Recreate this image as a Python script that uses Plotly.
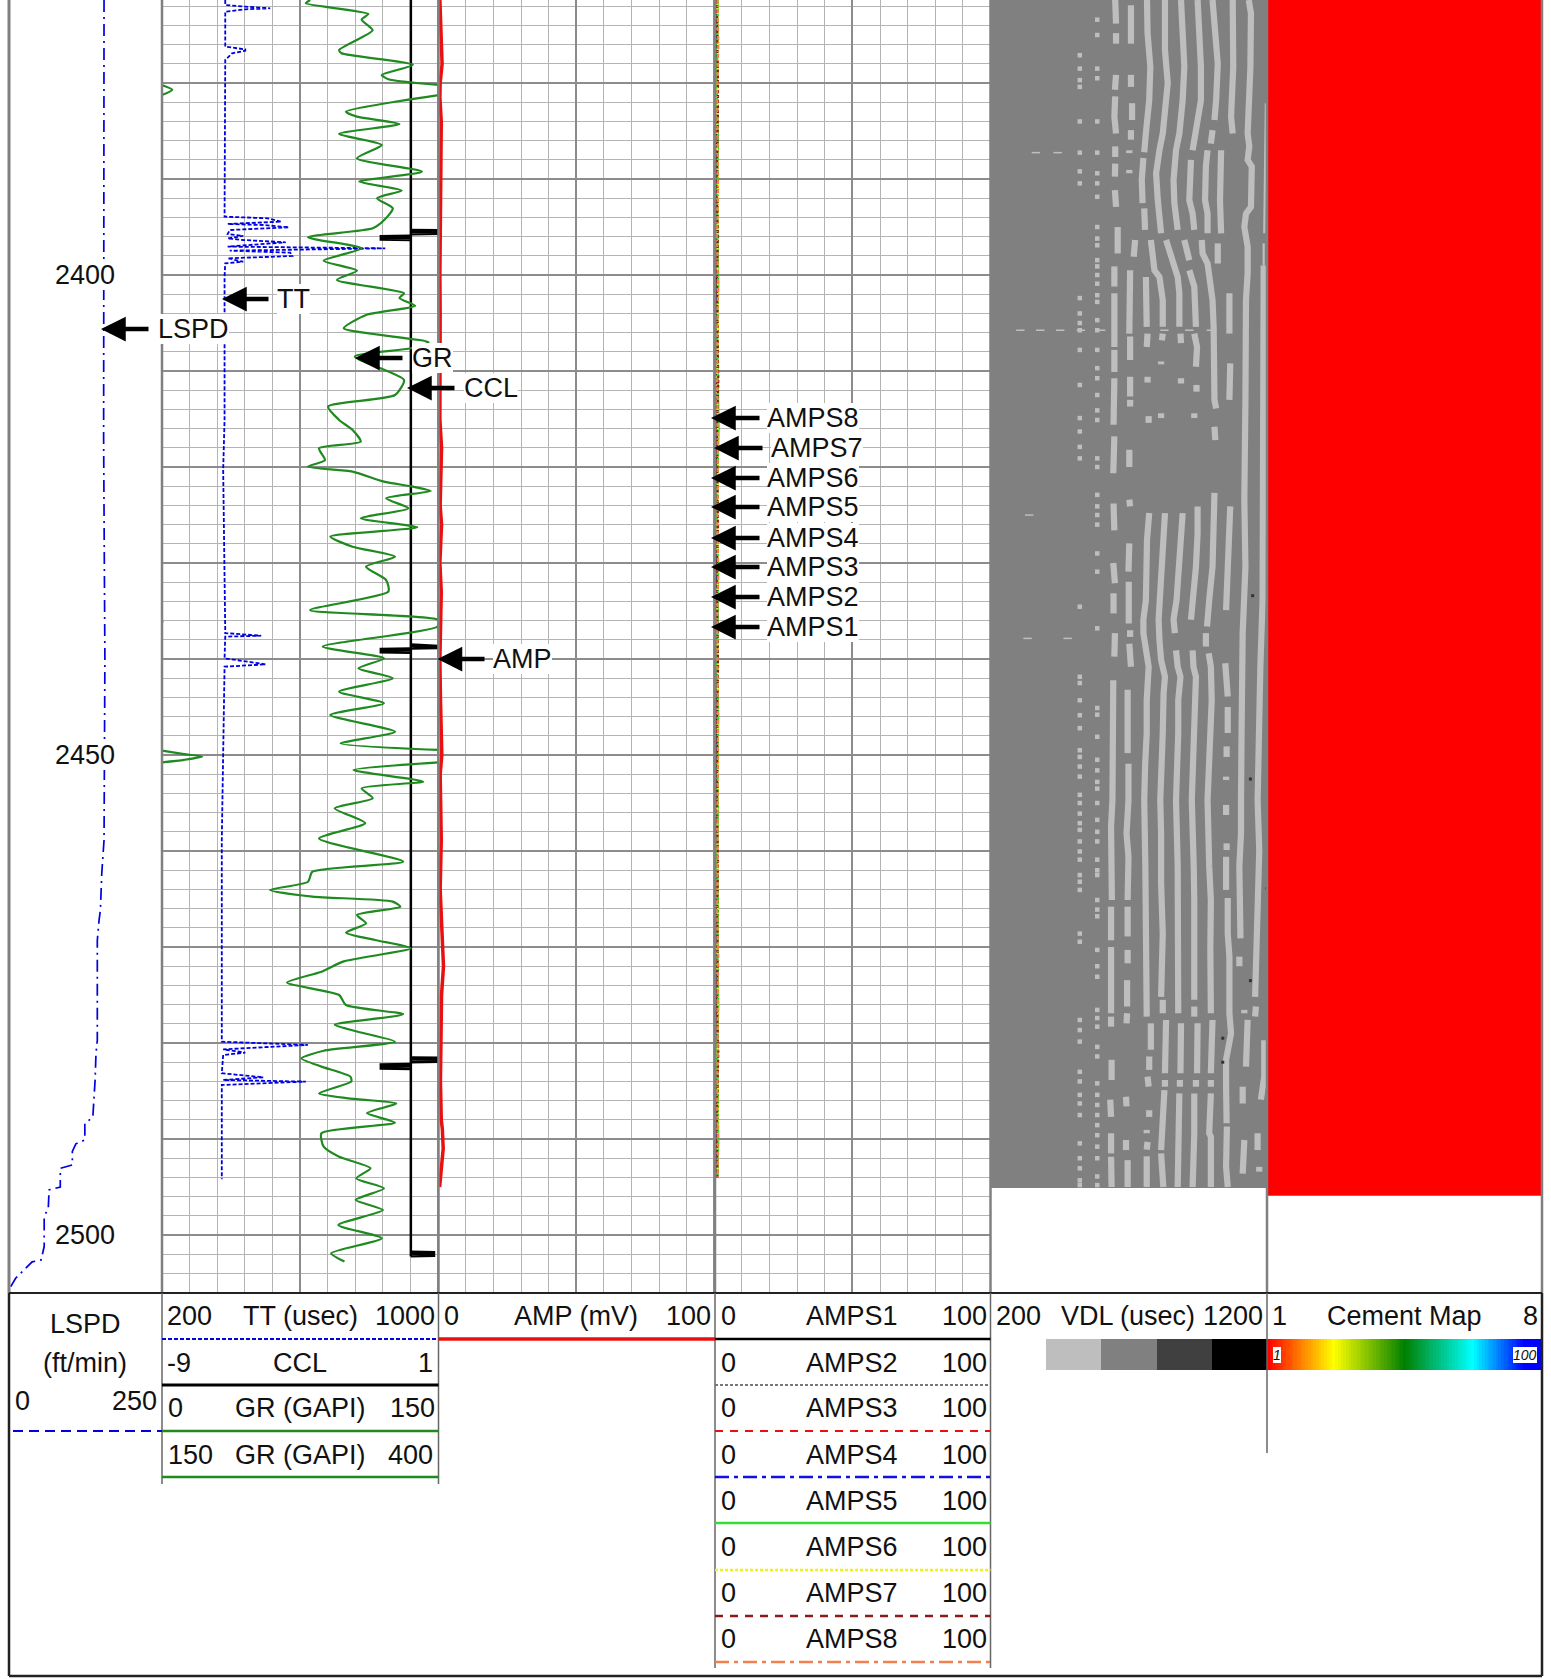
import plotly.graph_objects as go

# ---------------- data ----------------
DEPTH_TOP, DEPTH_BOTTOM = 2371.35, 2506.04
DEPTH_TICKS = [2400, 2450, 2500]

LSPD = [(2371.35,155.3),(2415.1,155.3),(2417,154.6),(2440,156.7),(2458.85,155.3),(2462.3,151.6),(2466.1,149.4),(2467.2,147.2),(2469.3,144.3),(2479.7,144.3),(2481.1,142.1),(2483.85,140.7),(2487.7,137),(2488.4,123.9),(2490.1,123.9),(2490.5,109.3),(2491.3,103.5),(2492.7,103.5),(2493.05,83.8),(2495,83.8),(2495.3,65.5),(2497.2,64.2),(2498.1,57.5),(2501.2,57.5),(2502.6,52.4),(2502.8,37.8),(2503.6,25.4),(2504.5,10.8),(2505.55,1.3)]

TT = [(2371.35,383),(2371.87,383),(2372.04,441),(2372.22,513),(2372.32,441),(2372.57,383),(2376.21,383),(2376.49,441),(2376.63,441),(2376.9,403),(2377.6,383),(2393.92,381),(2394.09,506),(2394.44,545),(2394.68,390),(2394.79,493),(2395.03,567),(2395.31,396),(2395.73,390),(2395.93,435),(2396.18,390),(2396.35,435),(2396.59,558),(2397.04,390),(2397.22,846),(2397.46,396),(2397.67,571),(2398.02,577),(2398.26,390),(2398.61,435),(2398.78,383),(2400.17,381),(2415.1,381),(2420.3,377),(2437.15,383),(2437.3,383),(2437.57,487),(2437.67,383),(2439.93,381),(2440.55,500),(2440.8,381),(2458.85,373),(2479.86,373),(2480.2,622),(2480.66,377),(2481,441),(2481.25,377),(2483.15,373),(2483.57,493),(2483.85,377),(2484.02,616),(2484.37,373),(2494.2,373)]

CCL_BASE = [(2371.35,0),(2502.25,0)]
CCL_KICKS = [(2395.4,0),(2395.45,1.0),(2395.6,1.0),(2395.65,0),None,(2396.0,0),(2396.05,-1.05),(2396.2,-1.05),(2396.25,0),None,
             (2438.6,0),(2438.65,1.0),(2438.75,1.0),(2438.8,0),None,(2439.0,0),(2439.05,-1.05),(2439.2,-1.05),(2439.25,0),None,
             (2481.6,0),(2481.65,1.0),(2481.85,1.0),(2481.9,0),None,(2482.3,0),(2482.35,-1.05),(2482.55,-1.05),(2482.6,0),None,
             (2501.85,0),(2501.9,0.8),(2502.05,0.8),(2502.1,0)]

GR = [(2371.35,80.4),(2371.7,78),(2372.8,111.9),(2373.4,108.3),(2374.5,114.3),(2376.56,96.1),(2376.9,97.4),(2378.1,136.1),(2379.16,119.2),(2379.6,122.8),(2380.2,150),None,
      (2381.25,150),(2382.98,99.8),(2383.5,105.8),(2384.27,128.8),(2385.3,96.1),(2386.45,119.2),(2387.84,105.8),(2389.23,141),(2390.27,107),(2391.2,130),(2392,116.7),(2393.05,125.2),(2394.3,120.4),(2395.13,114.3),(2396.07,79.2),(2397.22,108.3),(2398.5,87.7),(2399.54,105.8),(2400.5,94.9),(2401.9,131.3),(2402.4,128.8),(2403.2,137.3),(2404.16,110.7),(2405.55,98.6),(2407,144.6),(2407.63,134.9),(2408.5,104.6),(2410.93,131.3),(2412.5,126.4),(2413.7,90.1),(2415.1,96.1),
      (2416.14,103.4),(2417.36,107.8),(2418.05,85.2),(2419.27,88.4),(2419.96,79.2),(2420.48,103.4),(2421.52,120.4),(2422.04,136.1),(2422.5,145.8),(2423.26,121.6),(2424.3,133.7),(2425.34,107.8),(2426.28,138.5),(2427.25,91.3),(2428.3,103.4),(2429.34,126.4),(2430.38,110.7),(2431.77,121.6),(2432.98,122.8),(2434.9,80.4),(2435.93,150),(2436.63,149.4),(2438.7,87.2),(2439.93,120.4),(2440.97,106.6),(2442,125.2),(2443.4,96.1),(2444.6,120.4),(2445.83,91.3),(2447.57,126.4),(2448.8,96.9),(2449.47,150),None,
      (2450.76,150),(2451.56,103.9),(2452.77,141.7),(2453.47,108.3),(2454.5,114.3),(2455.55,93.7),(2457.1,110.2),(2458.7,85.2),(2461.1,130.8),(2462.15,81.6),(2463.2,79.2),(2464.06,58.6),(2464.75,81.6),(2465.27,125.2),(2465.8,129.3),(2466.66,105.8),(2467.53,110.7),(2468.5,99.8),(2469.27,115.5),(2470.13,134.9),(2471.5,98.6),(2472.57,86.5),(2473.7,67.8),(2475,96.1),(2476.04,99.8),(2477,130.8),(2478.1,93.7),(2478.8,105.8),(2479.86,126.4),(2480.8,87.7),(2481.6,75.6),(2482.46,86.5),(2483.5,102.2),(2484,102.7),(2485.24,85.2),(2485.76,101),(2486.3,127.1),(2487.3,111.2),(2488.3,126.4),(2489.4,86.5),(2490.8,87.7),(2491.85,96.1),(2493.05,113.1),(2494.1,105.4),(2495.14,120.4),(2496.35,105.1),(2497.4,119.9),(2498.95,95.7),(2500.34,119.2),(2501.9,91.8),(2502.77,99)]

GR_BACKUP = [(2380.2,150),(2380.7,159.3),(2381.25,150),None,(2449.55,150),(2449.9,170),(2450.17,186.3),(2450.5,170),(2450.76,150),None,(2435.95,150),(2436.2,150.5)]

AMP = [(2371.35,0.5),(2376,0.9),(2378,1.3),(2380,0.6),(2381.5,0.5),(2384,1.0),(2388,0.9),(2392,0.5),(2400,0.5),(2404,0.6),(2410,0.5),(2415,0.5),(2418,1.1),(2420,0.9),(2424,0.6),(2426,1.1),(2430,0.5),(2433,1.0),(2436,0.9),(2440,0.5),(2444,0.7),(2448,0.9),(2450,1.2),(2452,0.6),(2455,0.7),(2458.85,1.0),(2464,0.6),(2468,1.1),(2472,1.8),(2475,1.1),(2480,0.9),(2484,0.7),(2488,1.0),(2489,1.4),(2491,1.7),(2493,1.1),(2494,0.8),(2495,0.4)]

AMPS_DEPTH = [2371.35,2376,2381,2386,2391,2396,2401,2406,2411,2416,2421,2426,2431,2436,2441,2446,2451,2456,2461,2466,2471,2476,2481,2486,2490,2494]
AMPS1 = [0.5,0.4,0.6,0.5,0.4,0.7,0.5,0.4,0.5,0.6,0.4,0.5,0.7,0.5,0.4,0.6,0.5,0.4,0.5,0.7,0.5,0.4,0.6,0.5,0.4,0.5]
AMPS2 = [0.6,0.7,0.5,0.8,0.6,0.5,0.7,0.6,0.8,0.5,0.7,0.6,0.5,0.8,0.6,0.7,0.5,0.8,0.6,0.5,0.7,0.6,0.8,0.5,0.7,0.6]
AMPS3 = [0.9,0.8,1.0,0.7,0.9,1.1,0.8,1.0,0.7,0.9,0.8,1.1,0.9,0.7,1.0,0.8,0.9,1.1,0.7,0.9,1.0,0.8,0.7,1.1,0.9,0.8]
AMPS4 = [0.7,0.6,0.8,0.6,0.7,0.5,0.8,0.7,0.6,0.8,0.5,0.7,0.6,0.8,0.7,0.5,0.6,0.8,0.7,0.6,0.5,0.8,0.7,0.6,0.8,0.9]
AMPS5 = [1.0,0.9,0.7,1.1,0.8,0.9,1.2,0.8,1.0,1.3,0.9,0.7,1.1,1.0,0.8,1.2,0.9,1.0,0.8,1.1,0.9,1.2,0.8,1.0,1.2,0.9]
AMPS6 = [0.8,1.1,0.9,0.7,1.2,0.8,1.0,1.1,0.7,0.9,1.2,0.8,1.0,0.7,1.1,0.9,1.2,0.8,0.9,1.0,0.7,1.1,0.9,1.2,0.8,1.0]
AMPS7 = [0.6,0.8,1.1,0.9,0.5,1.0,0.7,0.9,1.2,0.7,0.8,1.0,0.6,0.9,1.1,0.7,0.8,0.6,1.1,0.8,0.9,0.7,1.2,0.8,0.6,0.9]
AMPS8 = [0.9,1.2,0.8,1.0,1.1,0.7,1.1,0.8,0.9,1.1,1.0,0.9,1.2,0.8,0.9,1.0,1.1,0.9,1.0,0.7,1.2,0.9,1.0,0.7,1.1,1.0]
AMPS_ALL = [AMPS1,AMPS2,AMPS3,AMPS4,AMPS5,AMPS6,AMPS7,AMPS8]

VDL_BOTTOM, CEMENT_BOTTOM = 2495.1, 2495.9

VDL_S1 = [(2371.35,651),(2373.8,654),None,(2374.8,654),(2375.9,654),None,(2379.15,654),(2380.7,650),None,(2381.4,651),(2383.5,648),(2385.25,654),None,(2386.6,651),(2387.7,651),None,(2388.4,651),(2389.75,650),None,(2391.15,650),(2392.9,654),None,(2395,660),(2397.75,660),None,(2399.1,648),(2401.2,648),None,(2401.9,648),(2405.75,651),(2407.5,648),None,(2407.8,648),(2410.1,648),None,(2410.75,648),(2413,648),(2415.6,645),None,(2416.8,648),(2420.65,644),None,(2423.8,645),(2426.6,648),None,(2430,644),(2432.1,650),None,(2433.15,645),(2435.25,645),None,(2437.3,650),(2439.75,648),None,(2442.2,644),(2444.3,644),(2445,639),(2449.8,639),(2454.7,641),(2457.45,636),(2464.05,636),(2465.1,639),None,(2465.8,636),(2469.3,636),None,(2470,636),(2476.9,636),None,(2477.25,636),(2478.3,636),None,(2481.75,638),(2483.85,638),None,(2485.9,633),(2487.7,636),None,(2489.4,636),(2491.5,636),None,(2491.85,636),(2495,638)]
VDL_S2 = [(2371.9,708),(2373.8,710),(2374.8,706),(2375.9,708),None,(2379.15,708),(2380.4,708),None,(2382.1,712),(2383.85,712),None,(2384.9,708),(2385.9,708),None,(2387,702),(2387.3,702),None,(2389.05,702),(2389.4,702),None,(2399.5,705),(2406.1,702),None,(2406.4,705),(2408.85,705),None,(2410.6,705),(2412.65,705),None,(2413,705),(2413.7,705),None,(2418.2,702),(2420,702),None,(2423.4,702),(2424.1,705),None,(2427.95,702),(2430.9,699),None,(2431.95,700),(2436.3,700),None,(2437,705),(2437.7,705),None,(2438.4,702),(2440.8,708),None,(2443.2,696),(2447.7,699),(2449.8,696),None,(2450.9,699),(2454.7,699),(2458.15,692),(2460.6,699),(2465.1,696),None,(2465.8,696),(2468.9,696),None,(2470.3,696),(2471.7,696),None,(2473.45,694),(2476.2,694),None,(2476.9,694),(2477.95,692),None,(2485.6,690),(2486.6,692),None,(2490.1,690),(2491.15,690),None,(2492.2,696),(2495,696)]
VDL_S3 = [(2371.35,766),(2374.8,768),(2378.3,778),(2381.8,774),(2385.2,762),(2387.2,756),None,(2387.8,753),(2390.1,747),(2392.5,750),None,(2393.05,756),(2395.3,759),None,(2396.35,723),(2398.1,718),None,(2400.2,762),(2405.4,765),None,(2406.1,768),(2407.5,765),None,(2410.6,768),(2411.2,768),None,(2414.7,772),(2415.4,772),None,(2424.8,774),(2427.6,766),(2433.85,762),(2435.9,753),(2437.3,753),(2439.1,760),(2440.8,772),(2444.3,765),(2447.7,765),(2451.2,759),(2454.7,756),(2461.6,760),(2468.6,762),(2477.25,765),None,(2477.95,780),(2480.7,780),None,(2481.4,774),(2482.8,774),None,(2483.5,768),(2484.55,772),None,(2487,774),(2487.7,774),None,(2489.05,765),(2489.4,765),None,(2490.3,768),(2491.1,765),None,(2491.8,765),(2493.6,765),(2495,765)]
VDL_S4 = [(2371.35,831),(2376.55,831),(2380,841),(2383.5,831),(2385.25,823),(2387,811),(2389.4,799),(2392.2,805),(2393.75,811),(2395.65,817),None,(2396.35,780),(2399.5,793),(2400.2,811),(2402.6,823),(2405.4,823),None,(2406.1,823),(2406.8,820),None,(2409,817),(2409.3,817),None,(2414.4,817),(2414.9,817),None,(2424.8,831),(2427.6,826),(2430.4,823),(2433.85,817),(2435.9,808),(2438,811),(2440.1,817),(2441.85,831),(2443.6,826),(2447.7,823),(2451.2,817),(2454.7,814),(2458.15,817),(2463.4,817),(2468.6,823),(2475.2,817),None,(2475.5,823),(2476.9,823),None,(2477.6,835),(2483.15,831),None,(2483.85,831),(2484.55,831),None,(2484.9,829),(2489.4,823),(2491.15,817),None,(2491.5,817),(2495,825)]
VDL_S5 = [(2371.35,889),(2374.8,895),(2378.3,901),(2381.8,895),(2385.25,883),(2387,871),(2390.1,862),(2392.5,865),(2393.6,868),(2395.3,877),None,(2396.35,835),(2398.1,853),(2400.2,877),(2401.9,883),(2405.4,883),None,(2406.1,887),(2407.1,889),None,(2410.75,889),(2411.3,889),None,(2424.8,895),(2427.6,889),(2430.4,885),(2433.85,873),(2435.9,862),(2437.3,867),None,(2439.1,871),(2440.8,877),(2441.85,887),(2444.3,879),(2447.7,879),(2451.2,877),(2454.7,871),(2461.6,877),(2468.6,877),(2476.9,879),None,(2477.95,889),(2483.15,887),None,(2483.85,885),(2484.55,885),None,(2485.25,883),(2489.4,879),(2495,877)]
VDL_S6 = [(2371.35,949),(2374.8,955),(2378.3,961),(2381.8,961),(2385.25,943),(2387,931),None,(2388,925),(2392.2,919),(2393.6,931),(2395.3,937),None,(2396.35,901),(2398.45,919),None,(2399.5,919),(2401.2,937),(2405.4,943),None,(2406.1,937),(2407.5,947),(2409.55,943),None,(2411.45,945),(2412.15,945),None,(2414.4,937),(2414.9,937),None,(2424.1,949),(2426.9,949),(2430.4,943),(2433.85,935),(2435.9,925),None,(2439.1,931),(2440.8,934),(2441.85,943),(2447.7,937),(2451.2,934),(2454.7,928),(2461.6,935),(2465.1,937),(2475.5,937),None,(2476.2,937),(2477.25,937),None,(2477.95,949),(2483.15,947),None,(2483.85,943),(2484.55,943),None,(2485.25,937),(2489.4,937),(2495,931)]
VDL_S7 = [(2371.35,1003),(2374.8,1013),(2378,1022),(2381.8,1016),(2383.85,1010),None,(2384.9,1003),(2386.3,997),None,(2387,985),(2388.7,979),(2392.2,976),(2393.6,985),(2395.65,985),None,(2396.35,964),(2397.75,967),(2398.8,985),(2400.9,997),(2402.6,1003),(2405.4,1007),(2409.55,1007),(2413,1010),(2413.9,1016),None,(2415.8,1010),(2417.2,1013),None,(2422.7,1010),(2426.9,1006),(2430.4,1003),(2433.85,991),(2436.6,983),None,(2437.3,979),(2438.7,979),None,(2439.4,989),(2440.8,997),(2444.3,1000),(2447.7,995),(2451.2,988),(2454.7,985),(2461.6,991),(2465.1,997),(2470.3,995),(2476.9,997),None,(2477.6,1003),(2483.15,997),None,(2483.85,997),(2484.55,997),None,(2485.25,997),(2489.4,991),(2489.75,997),(2495,997)]
VDL_S8 = [(2371.35,1076),(2378.3,1078),(2383.5,1070),(2385.25,1076),None,(2387,1034),(2392.2,1030),(2395.65,1034),None,(2396.7,1022),(2398.8,1022),None,(2401.9,1064),(2406.1,1064),None,(2409.2,1067),(2413,1064),None,(2424.1,1067),(2429.7,1061),(2434.9,1052),None,(2440.45,1049),(2443.9,1058),None,(2445,1058),(2447.7,1058),None,(2449.1,1054),(2450.2,1054),None,(2452.25,1052),(2452.6,1052),None,(2455.2,1052),(2456.25,1052),None,(2459.2,1054),(2459.9,1054),None,(2460.6,1052),(2464.05,1052),None,(2464.9,1058),(2468.6,1058),(2471,1064),(2476.9,1064),(2479,1070),(2481.75,1052),(2484.55,1052),(2488.35,1054),None,(2488.7,1055),(2492.9,1052),(2495,1058)]
VDL_S9 = [(2371.35,1134),(2372.75,1142),(2378.3,1140),(2381.8,1136),(2385.25,1130),(2386.6,1136),(2388,1130),(2388.7,1145),(2392.9,1142),(2393.6,1124),(2395,1118),(2397.05,1130),(2399.8,1130),(2402.6,1124),(2406.1,1124),(2413,1122),(2423.4,1118),(2430.4,1122),(2437.3,1112),(2440.8,1112),(2447.7,1108),(2454.7,1106),(2458.15,1106),(2461.6,1100),(2465.1,1104),(2469.1,1104),None,(2471,1100),(2472,1100),None,(2476.55,1118),(2476.9,1118),None,(2477.6,1130),(2482.45,1124),None,(2484.55,1112),(2486.3,1112),None,(2490.1,1118),(2493.6,1112)]
VDL_S10_FAINT = [(2382.1,1196),(2395.65,1190),None,(2396.7,1188),(2399,1188)]
VDL_S10 = [(2399,1188),(2413,1188),(2423.4,1187),(2433.85,1184),(2440.8,1176),(2447.7,1172),(2454.7,1166),(2459.9,1172),(2465.1,1166),(2472,1160),(2475.2,1157),None,(2476.2,1160),(2477.25,1157),None,(2479.7,1190),(2483.5,1190),(2485.9,1178),None,(2489.4,1166),(2491.15,1166),None,(2492.9,1172),(2493.4,1172)]
VDL_STRIPES = [VDL_S1,VDL_S2,VDL_S3,VDL_S4,VDL_S5,VDL_S6,VDL_S7,VDL_S8,VDL_S9,VDL_S10]

VDL_SPOTS_A_DEPTH = [2377.1,2378.5,2379.7,2380.4,2384,2387.25,2389.2,2390.45,2402.4,2404,2405,2405.75,2407.8,2411.45,2414.9,2416.3,2417.9,2419.1,2434.55,2441.85,2442.5,2444.3,2445.85,2447.2,2449.5,2450.2,2451.2,2452.25,2454.15,2455,2456.1,2457.1,2457.8,2459,2460.05,2460.9,2462.5,2463.2,2464.05,2468.6,2469.45,2477.6,2478.65,2479.85,2483,2484,2485.4,2486.3,2487.5,2490.45,2492,2493.05,2494.3,2494.8]
VDL_SPOTS_A_USEC = 523
VDL_SPOTS_B_DEPTH = [2373.4,2375,2378.5,2379.5,2384,2387.25,2389.4,2390.45,2391.85,2395,2396.2,2396.9,2398.45,2399.1,2400,2400.9,2402.1,2402.8,2404.7,2405.75,2407.8,2409.7,2410.75,2412.5,2414.1,2415.1,2419.1,2420,2422.9,2424.1,2425,2426,2429,2430.9,2436.8,2445.1,2445.8,2448.1,2450.5,2451.6,2452.8,2453.5,2455,2456.75,2458,2459,2460.9,2462,2462.5,2465.1,2466.1,2466.8,2470.3,2472,2473.1,2476.55,2477.4,2478.3,2480.4,2481.4,2484.2,2485.4,2486.45,2487.5,2488.55,2489.6,2490.8,2492,2493.9,2494.8]
VDL_SPOTS_B_USEC = 586
VDL_DASH_DEPTH = [2387.25,2387.25,2405.75,2405.75,2405.75,2405.75,2405.75,2405.75,2405.75,2405.75,2425,2437.85,2437.85]
VDL_DASH_USEC = [364,443,308,380,452,527,600,829,919,997,340,334,479]
VDL_DARK_DEPTH = [2433.4,2452.5,2479.5,2463.9,2482,2473.5]
VDL_DARK_USEC = [1148,1140,1040,1200,1040,1140]

GRAY_RAMP = [0,1,2,3]
GRAY_COLORS = ['#BEBEBE','#808080','#404040','#000000']
CEMENT_RAMP_STOPS = [(0,'#FF0000'),(0.24,'#FFFF00'),(0.5,'#008000'),(0.75,'#00FFFF'),(0.94,'#0000FF'),(1,'#0000FF')]

# ---------------- layout helpers ----------------
W, H = 1551, 1679
TRACKS = [9, 162, 438.5, 715, 990.5, 1267, 1542]
LEGEND_TOP = 1293
FONT = 'Liberation Sans, Arial, sans-serif'
GRID_MAJOR, GRID_MINOR = '#8C8C8C', '#B4B4B4'
FRAME_GRAY = '#808080'
LIGHT = '#BEBEBE'

def px(x): return x / W
def py(y): return 1 - y / H
def split(pts):
    xs, ys = [], []
    for p in pts:
        if p is None:
            xs.append(None); ys.append(None)
        else:
            ys.append(p[0]); xs.append(p[1])
    return xs, ys

fig = go.Figure()
dep_range = [DEPTH_BOTTOM, DEPTH_TOP]
ydom = [py(LEGEND_TOP), 1]
base_ax = dict(showticklabels=False, ticks='', zeroline=False, showline=False)
def xax(i0, i1, rng, **kw):
    return dict(domain=[px(TRACKS[i0]), px(TRACKS[i1])], range=rng, anchor='y2', showgrid=False, **base_ax, **kw)

layout = dict(
    width=W, height=H, margin=dict(l=0, r=0, t=0, b=0), autosize=False,
    paper_bgcolor='white', plot_bgcolor='rgba(0,0,0,0)', showlegend=False,
    xaxis=dict(domain=[px(TRACKS[1]), px(TRACKS[4])], range=[0, 30], tick0=0, dtick=5, showgrid=True,
               gridcolor=GRID_MAJOR, gridwidth=2.2, anchor='y',
               minor=dict(dtick=1, tick0=0, showgrid=True, gridcolor=GRID_MINOR, gridwidth=1.2, ticks=''), **base_ax),
    yaxis=dict(domain=ydom, range=dep_range, tick0=2400, dtick=10, showgrid=True,
               gridcolor=GRID_MAJOR, gridwidth=2.2, anchor='x',
               minor=dict(dtick=2, tick0=2400, showgrid=True, gridcolor=GRID_MINOR, gridwidth=1.2, ticks=''), **base_ax),
    yaxis2=dict(domain=ydom, range=dep_range, showgrid=False, anchor='x2', **base_ax),
    xaxis2=xax(0, 1, [0, 250]),
    xaxis3=xax(1, 2, [200, 1000]),
    xaxis4=xax(1, 2, [-9, 1], overlaying='x3'),
    xaxis5=xax(1, 2, [0, 150], overlaying='x3'),
    xaxis6=xax(1, 2, [150, 400], overlaying='x3'),
    xaxis7=xax(2, 3, [0, 100]),
    xaxis8=xax(3, 4, [0, 100]),
    xaxis9=xax(4, 5, [200, 1200]),
    xaxis10=xax(5, 6, [1, 8]),
    # colour ramps in the header
    xaxis11=dict(domain=[px(1046), px(1267)], range=[-0.5, 3.5], anchor='y3', showgrid=False, **base_ax),
    yaxis3=dict(domain=[py(1370), py(1339)], range=[-0.5, 0.5], anchor='x11', showgrid=False, **base_ax),
    xaxis12=dict(domain=[px(1267), px(1542)], range=[-0.5, 100.5], anchor='y4', showgrid=False, **base_ax),
    yaxis4=dict(domain=[py(1370), py(1339)], range=[-0.5, 0.5], anchor='x12', showgrid=False, **base_ax),
)

# invisible trace so the grid subplot exists
fig.add_trace(go.Scatter(x=[0, 30], y=[DEPTH_TOP, DEPTH_BOTTOM], mode='lines', line=dict(width=0), opacity=0, xaxis='x', yaxis='y', hoverinfo='skip'))

def line(pts, xa, color, width=1.5, dash='solid', clip=True, smooth=False):
    x, y = split(pts)
    ln = dict(color=color, width=width, dash=dash)
    if smooth:
        ln.update(shape='spline', smoothing=0.6)
    fig.add_trace(go.Scatter(x=x, y=y, mode='lines', line=ln,
                             xaxis=xa, yaxis='y2', cliponaxis=clip, connectgaps=False, hoverinfo='skip'))

# VDL and cement panels
fig.add_trace(go.Scatter(x=[200, 1200, 1200, 200, 200], y=[DEPTH_TOP, DEPTH_TOP, VDL_BOTTOM, VDL_BOTTOM, DEPTH_TOP],
                         mode='lines', fill='toself', fillcolor='#808080', line=dict(width=0), xaxis='x9', yaxis='y2', hoverinfo='skip'))
for s in VDL_STRIPES:
    line(s, 'x9', LIGHT, 6.2)
line(VDL_S10_FAINT, 'x9', LIGHT, 2.2)
fig.add_trace(go.Scatter(x=[VDL_SPOTS_A_USEC]*len(VDL_SPOTS_A_DEPTH), y=VDL_SPOTS_A_DEPTH, mode='markers',
                         marker=dict(symbol='square', size=4.5, color=LIGHT), xaxis='x9', yaxis='y2', hoverinfo='skip'))
fig.add_trace(go.Scatter(x=[VDL_SPOTS_B_USEC]*len(VDL_SPOTS_B_DEPTH), y=VDL_SPOTS_B_DEPTH, mode='markers',
                         marker=dict(symbol='square', size=4.5, color=LIGHT), xaxis='x9', yaxis='y2', hoverinfo='skip'))
fig.add_trace(go.Scatter(x=VDL_DASH_USEC, y=VDL_DASH_DEPTH, mode='markers',
                         marker=dict(symbol='line-ew', size=6, line=dict(color=LIGHT, width=1.5)), xaxis='x9', yaxis='y2', hoverinfo='skip'))
fig.add_trace(go.Scatter(x=VDL_DARK_USEC, y=VDL_DARK_DEPTH, mode='markers',
                         marker=dict(symbol='square', size=3, color='#333333'), xaxis='x9', yaxis='y2', hoverinfo='skip'))
fig.add_trace(go.Scatter(x=[1, 8, 8, 1, 1], y=[DEPTH_TOP, DEPTH_TOP, CEMENT_BOTTOM, CEMENT_BOTTOM, DEPTH_TOP],
                         mode='lines', fill='toself', fillcolor='#FF0000', line=dict(width=0), xaxis='x10', yaxis='y2', hoverinfo='skip'))

# log curves
line(LSPD, 'x2', '#0000E0', 1.7, '12px,5px,2px,5px')
line(TT, 'x3', '#0000E0', 1.8, '4px,2px')
line(GR, 'x5', '#1F8A1F', 2.2, smooth=True)
line(GR_BACKUP, 'x6', '#1F8A1F', 2.2, smooth=True)
line(CCL_BASE, 'x4', '#000000', 2.5)
line(CCL_KICKS, 'x4', '#000000', 4.5)
AMPS_STYLE = [('#000000', 'solid'), ('#777777', '2px,1px'), ('#E81010', '3px,2px'), ('#1010E0', '4px,2px,1px,2px'),
              ('#20E020', 'solid'), ('#F0F020', '2px,2px'), ('#8B1A1A', '3px,2px'), ('#F08050', '4px,2px,1px,2px')]
for vals, (c, d) in zip(AMPS_ALL, AMPS_STYLE):
    line(list(zip(AMPS_DEPTH, vals)), 'x8', c, 2.2, d, clip=False)
line(AMP, 'x7', '#E81010', 3.5, clip=False)

# colour ramps
n = len(GRAY_COLORS)
gray_scale = []
for i, c in enumerate(GRAY_COLORS):
    gray_scale += [[i / n, c], [(i + 1) / n, c]]
fig.add_trace(go.Heatmap(z=[GRAY_RAMP], x=GRAY_RAMP, y=[0], zmin=-0.5, zmax=3.5, colorscale=gray_scale, showscale=False,
                         xaxis='x11', yaxis='y3', hoverinfo='skip'))
fig.add_trace(go.Heatmap(z=[list(range(101))], x=list(range(101)), y=[0], zmin=0, zmax=100,
                         colorscale=[[a, c] for a, c in CEMENT_RAMP_STOPS], showscale=False,
                         xaxis='x12', yaxis='y4', hoverinfo='skip'))

# frame & dividers
shapes = []
def seg(x0, y0, x1, y1, color, width, dash='solid'):
    shapes.append(dict(type='line', xref='paper', yref='paper', x0=px(x0), y0=py(y0), x1=px(x1), y1=py(y1),
                       line=dict(color=color, width=width, dash=dash), layer='above'))
seg(9, 0, 9, LEGEND_TOP, FRAME_GRAY, 3)
seg(1542, 0, 1542, LEGEND_TOP, FRAME_GRAY, 2.5)
for x in TRACKS[1:6]:
    seg(x, 0, x, LEGEND_TOP, FRAME_GRAY, 2.5)
seg(9, LEGEND_TOP, 1542, LEGEND_TOP, '#222222', 2)
seg(9, LEGEND_TOP, 9, 1676, '#222222', 2.5)
seg(1542, LEGEND_TOP, 1542, 1676, '#222222', 2.5)
seg(9, 1676, 1542, 1676, '#222222', 2.5)
# header dividers
for x, b in [(162, 1484), (438.5, 1484), (715, 1668), (990.5, 1668), (1267, 1453)]:
    seg(x, LEGEND_TOP, x, b, '#666666', 1.5)
seg(13, 1431, 162, 1431, '#0000E0', 2, '10px,6px')
seg(162, 1339, 436, 1339, '#0000E0', 2, '4px,2px')
seg(162, 1385, 438.5, 1385, '#000000', 3)
seg(162, 1431, 438.5, 1431, '#1F8A1F', 2.5)
seg(162, 1477, 438.5, 1477, '#1F8A1F', 2.5)
seg(438.5, 1339, 715, 1339, '#E81010', 3.5)
AMPS_ROWS = [1339, 1385, 1431, 1477, 1523, 1570, 1616, 1662]
AMPS_LEG = [('#000000', 'solid', 2.5), ('#777777', '3px,2px', 2), ('#E81010', '8px,7px', 2), ('#1010E0', '14px,5px,4px,5px', 2.5),
            ('#30E030', 'solid', 2.5), ('#F0F020', '3px,2px', 2.5), ('#8B1A1A', '8px,7px', 2.5), ('#F08050', '14px,5px,4px,5px', 2.5)]
for y, (c, d, w) in zip(AMPS_ROWS, AMPS_LEG):
    seg(715, y, 990.5, y, c, w, d)

# texts
ann = []
def text(x, y, s, size=27, bg=None, yref_data=False):
    a = dict(x=px(x), xref='paper', y=(y if yref_data else py(y)), yref=('y2' if yref_data else 'paper'), text=s, showarrow=False,
             xanchor='center', yanchor='middle', font=dict(family=FONT, size=size, color='#111111'), borderpad=0, borderwidth=0)
    if bg:
        a['bgcolor'] = bg
    ann.append(a)
def arrow(tip, tail, y):
    ann.append(dict(x=px(tip), xref='paper', y=py(y), yref='paper', ax=tail - tip, ay=0, axref='pixel', ayref='pixel', text='',
                    showarrow=True, arrowhead=2, arrowsize=1.1, arrowwidth=4.5, arrowcolor='#000000'))

for d in DEPTH_TICKS:
    text(85, d, str(d), bg='white', yref_data=True)

for name, tip, tail, tx, y in [('TT', 222, 270, 293, 299), ('LSPD', 101, 150, 193, 329), ('GR', 355, 404, 432, 358),
                               ('CCL', 407, 456, 491, 388), ('AMP', 437.5, 486, 522, 659),
                               ('AMPS8', 711, 761, 813, 418), ('AMPS7', 714, 764, 817, 448), ('AMPS6', 711, 761, 813, 478),
                               ('AMPS5', 711, 761, 813, 507), ('AMPS4', 711, 761, 813, 538), ('AMPS3', 711, 761, 813, 567),
                               ('AMPS2', 711, 761, 813, 597), ('AMPS1', 711, 761, 813, 627)]:
    arrow(tip, tail, y)
    text(tx, y, name, bg='white')

R = [1316, 1362.7, 1408, 1454.7, 1500.7, 1546.7, 1592.7, 1639]
text(85, 1324, 'LSPD'); text(85, 1363, '(ft/min)'); text(22, 1401, '0'); text(134, 1401, '250')
text(189, R[0], '200'); text(300, R[0], 'TT (usec)'); text(405, R[0], '1000')
text(179, R[1], '-9'); text(300, R[1], 'CCL'); text(425, R[1], '1')
text(175, R[2], '0'); text(300, R[2], 'GR (GAPI)'); text(412, R[2], '150')
text(190, R[3], '150'); text(300, R[3], 'GR (GAPI)'); text(411, R[3], '400')
text(451.5, R[0], '0'); text(575.5, R[0], 'AMP (mV)'); text(688, R[0], '100')
for i in range(8):
    text(728, R[i], '0'); text(852, R[i], 'AMPS%d' % (i + 1)); text(964, R[i], '100')
text(1018, R[0], '200'); text(1128, R[0], 'VDL (usec)'); text(1233, R[0], '1200')
text(1279, R[0], '1'); text(1404.5, R[0], 'Cement Map'); text(1530, R[0], '8')
text(1276.5, 1354.5, '<i>1</i>', size=14, bg='white')
text(1525, 1354.5, '<i>100</i>', size=14, bg='white')

fig.update_layout(shapes=shapes, annotations=ann, **layout)
fig.write_html("out.html", post_script="document.body.style.margin='0';", config=dict(displayModeBar=False))
